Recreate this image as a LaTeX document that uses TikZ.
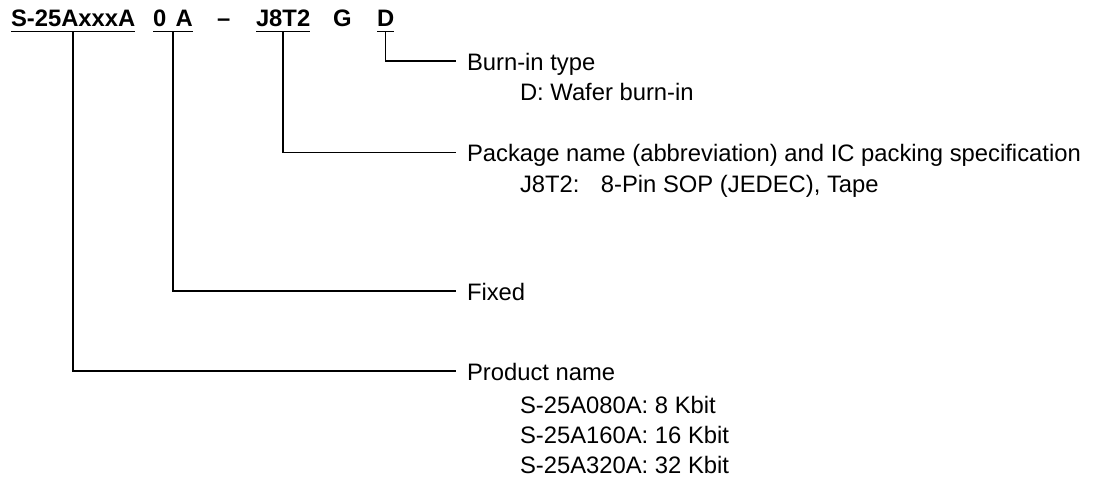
\documentclass[tikz,border=0pt]{standalone}
\usepackage{fontspec}
\setmainfont{Liberation Sans}
\begin{document}
\begin{tikzpicture}[x=1pt,y=-1pt,
  every node/.style={inner sep=0pt, outer sep=0pt, anchor=base west, font=\fontsize{23.8}{28}\selectfont},
  code/.style={font=\fontsize{23.8}{28}\selectfont\bfseries},
  lead/.style={line width=1.5pt, line join=miter},
  uline/.style={line width=1.4pt}]
\useasboundingbox (0,0) rectangle (1093,485);
% part number
\node[code] (c1) at (11,26.7) {S-25AxxxA};
\node[code] (c2) at (153,26.7) {0\hspace{0.4em}A};
\node[code] (c3) at (217,26.7) {–};
\node[code] (c4) at (256,26.7) {J8T2};
\node[code] (c5) at (333,26.7) {G};
\node[code] (c6) at (377,26.7) {D};
% underlines
\draw[uline] ([yshift=-5pt]c1.base west) -- coordinate (u1) ([yshift=-5pt]c1.base east);
\draw[uline] ([yshift=-5pt]c2.base west) -- coordinate (u2) ([yshift=-5pt]c2.base east);
\draw[uline] ([yshift=-5pt]c4.base west) -- coordinate (u4) ([yshift=-5pt]c4.base east);
\draw[uline] ([yshift=-5pt]c6.base west) -- coordinate (u6) ([yshift=-5pt]c6.base east);
% labels
\node (l1) at (467,70) {Burn-in type};
\node (l1a) at (520,100) {D: Wafer burn-in};
\node (l2) at (467,161.5) {Package name (abbreviation) and IC packing specification};
\node (l2a) at (520,192) {J8T2:\hspace{0.9em}8-Pin SOP (JEDEC), Tape};
\node (l3) at (467,300) {Fixed};
\node (l4) at (467,380) {Product name};
\node (l4a) at (520,413) {S-25A080A: 8 Kbit};
\node (l4b) at (520,443) {S-25A160A: 16 Kbit};
\node (l4c) at (520,473) {S-25A320A: 32 Kbit};
% leaders
\draw[lead] (u6) |- ([xshift=-11pt,yshift=9pt]l1.base west);
\draw[lead] (u4) |- ([xshift=-11pt,yshift=9pt]l2.base west);
\draw[lead] (u2) |- ([xshift=-11pt,yshift=9pt]l3.base west);
\draw[lead] (u1) |- ([xshift=-11pt,yshift=9pt]l4.base west);
\end{tikzpicture}
\end{document}
